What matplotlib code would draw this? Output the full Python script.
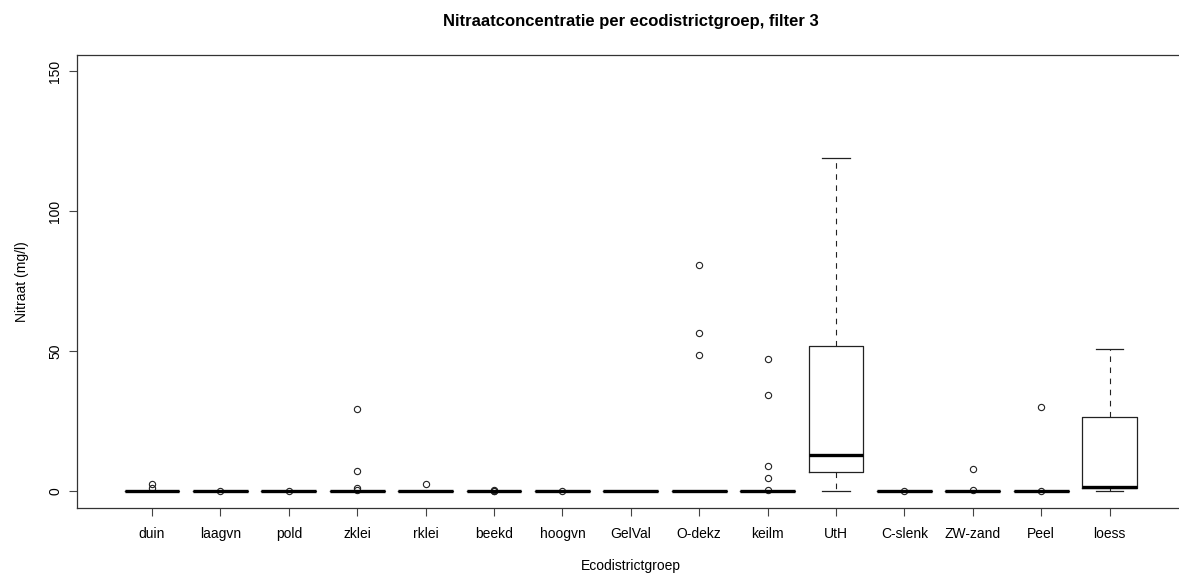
import matplotlib
matplotlib.use("Agg")
import matplotlib.pyplot as plt

groups = ["duin", "laagvn", "pold", "zklei", "rklei", "beekd", "hoogvn", "GelVal",
          "O-dekz", "keilm", "UtH", "C-slenk", "ZW-zand", "Peel", "loess"]
medians = [0, 0, 0, 0, 0, 0, 0, 0, 0, 0, 13.1, 0, 0, 0, 1.4]
q1 = [0, 0, 0, 0, 0, 0, 0, 0, 0, 0, 6.7, 0, 0, 0, 1.0]
q3 = [0, 0, 0, 0, 0, 0, 0, 0, 0, 0, 52.0, 0, 0, 0, 26.4]
whis_lo = [0, 0, 0, 0, 0, 0, 0, 0, 0, 0, 0, 0, 0, 0, 0]
whis_hi = [0, 0, 0, 0, 0, 0, 0, 0, 0, 0, 119.0, 0, 0, 0, 50.7]
outliers = [
    [2.6, 1.1],
    [0.2],
    [0.1],
    [29.4, 7.2, 1.0, 0.4],
    [2.5],
    [0.4, 0.2, 0.1],
    [0.2],
    [],
    [80.9, 56.5, 48.7],
    [47.4, 34.4, 9.0, 4.6, 0.6],
    [],
    [0.1],
    [7.8, 0.5],
    [30.1, 0.1],
    [],
]
yticks = [0, 50, 100, 150]

plt.rcParams['font.family'] = ['Liberation Sans', 'DejaVu Sans']
fig = plt.figure(figsize=(11.79, 5.78), dpi=100)
ax = fig.add_axes([0.0651, 0.1211, 1.005 - 0.0651, 0.9054 - 0.1211])

stats = []
for i, g in enumerate(groups):
    stats.append(dict(label=g, med=medians[i], q1=q1[i], q3=q3[i],
                      whislo=whis_lo[i], whishi=whis_hi[i], fliers=outliers[i]))

positions = list(range(1, len(groups) + 1))
ax.bxp(stats, positions=positions, widths=0.8, showfliers=True,
       boxprops=dict(color='#222222', linewidth=0.9),
       medianprops=dict(color='black', linewidth=2.4, solid_capstyle='butt'),
       whiskerprops=dict(color='#222222', linewidth=0.8, linestyle=(0, (5, 5))),
       capprops=dict(color='#222222', linewidth=0.9),
       capwidths=0.4,
       flierprops=dict(marker='o', markerfacecolor='none', markeredgecolor='#222222',
                       markersize=4.5, markeredgewidth=0.8, linestyle='none'))

ax.set_xlim(-0.1, 16.1)
ax.set_ylim(-6, 156)
ax.set_xticks(positions)
ax.set_xticklabels(groups, fontsize=10)
ax.set_yticks(yticks)
ax.set_yticklabels([str(t) for t in yticks], fontsize=10, rotation=90, va='center')
ax.tick_params(axis='both', length=6, width=0.8, color='#444444')
ax.tick_params(axis='y', pad=4.5)
ax.tick_params(axis='x', pad=7.5)
for sp in ax.spines.values():
    sp.set_color('#333333')
    sp.set_linewidth(0.9)

ax.set_title("Nitraatconcentratie per ecodistrictgroep, filter 3", fontsize=12,
             fontweight='bold', pad=21, x=(631 - 76.7) / (1185 - 76.7))
ax.set_xlabel("Ecodistrictgroep", fontsize=10, labelpad=13)
ax.set_ylabel("Nitraat (mg/l)", fontsize=10, labelpad=14)

fig.savefig("out.png", dpi=100)
